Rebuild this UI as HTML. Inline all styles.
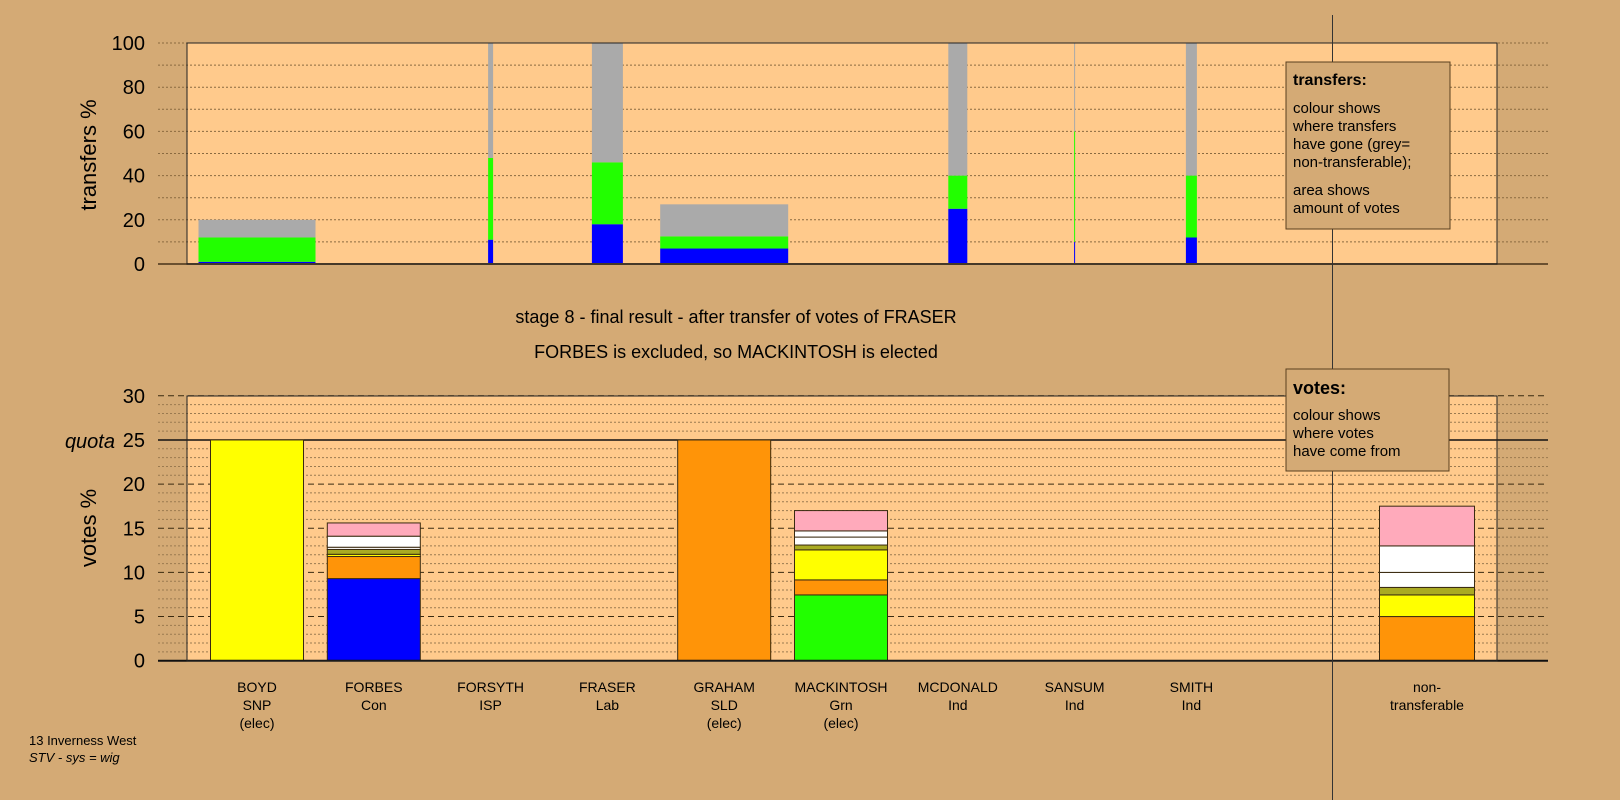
<!DOCTYPE html>
<html><head><meta charset="utf-8"><style>
html,body{margin:0;padding:0;background:#d4aa75;}
svg{display:block;font-family:"Liberation Sans",sans-serif;}
</style></head><body>
<svg id="c" width="1620" height="800" viewBox="0 0 1620 800" xmlns="http://www.w3.org/2000/svg">
<rect x="0" y="0" width="1620" height="800" fill="#d4aa75"/>
<rect x="187" y="43" width="1310" height="221" fill="#ffca8c"/>
<rect x="187" y="396" width="1310" height="265" fill="#ffca8c"/>
<g id="tg"></g>
<g id="vg"></g>
<g id="tb"></g>
<g id="vb"></g>
<rect x="187" y="43" width="1310" height="221" fill="none" stroke="#222" stroke-width="1"/>
<rect x="187" y="396" width="1310" height="265" fill="none" stroke="#222" stroke-width="1"/>
<line x1="1332.5" y1="15" x2="1332.5" y2="800" stroke="#333" stroke-width="1"/>
<text x="0" y="0" transform="translate(96,155) rotate(-90)" text-anchor="middle" font-size="22">transfers %</text>
<text x="0" y="0" transform="translate(96,528) rotate(-90)" text-anchor="middle" font-size="22">votes %</text>
<text x="115" y="448" text-anchor="end" font-size="20" font-style="italic">quota</text>
<text x="736" y="323" text-anchor="middle" font-size="18">stage 8 - final result - after transfer of votes of FRASER</text>
<text x="736" y="358" text-anchor="middle" font-size="18">FORBES is excluded, so MACKINTOSH is elected</text>
<g>
<rect x="1286" y="62" width="164" height="167" fill="#d4aa75" stroke="#5a4020" stroke-width="1"/>
<text x="1293" y="85" font-size="16" font-weight="bold">transfers:</text>
<text font-size="15"><tspan x="1293" y="113">colour shows</tspan><tspan x="1293" y="131">where transfers</tspan><tspan x="1293" y="149">have gone (grey=</tspan><tspan x="1293" y="167">non-transferable);</tspan><tspan x="1293" y="195">area shows</tspan><tspan x="1293" y="213">amount of votes</tspan></text>
</g>
<g>
<rect x="1286" y="369" width="163" height="102" fill="#d4aa75" stroke="#5a4020" stroke-width="1"/>
<text x="1293" y="394" font-size="18" font-weight="bold">votes:</text>
<text font-size="15"><tspan x="1293" y="420">colour shows</tspan><tspan x="1293" y="438">where votes</tspan><tspan x="1293" y="456">have come from</tspan></text>
</g>
<g id="cl"></g>
<text x="29" y="745" font-size="13">13 Inverness West</text>
<text x="29" y="762" font-size="13" font-style="italic">STV - sys = wig</text>
</svg>
<script>
const candidates=["BOYD","FORBES","FORSYTH","FRASER","GRAHAM","MACKINTOSH","MCDONALD","SANSUM","SMITH"];
const parties=["SNP","Con","ISP","Lab","SLD","Grn","Ind","Ind","Ind"];
const elected=[true,false,false,false,true,true,false,false,false];
// transfers: cumulative tops (%), and bar width relative to votes transferred
const trBlue=[1,0,11,18,7,0,25,10,12];
const trGreen=[12,0,48,46,12.5,0,40,60,40];
const trGrey=[20,0,100,100,27,0,100,100,100];
const trWidth=[117,0,5,31,128,0,19,1,11];
// votes: segments stacked bottom-up
const segColors=["#0000ff","#22ff00","#ff9408","#ffff00","#aaaa22","#ffffff","#ffffff","#ffaabb"];
const vBlue=[0,9.3,0,0,0,0,0,0,0,0];
const vGreen=[0,0,0,0,0,7.45,0,0,0,0];
const vOrange=[0,2.5,0,0,25,1.7,0,0,0,5.0];
const vYellow=[25,0.25,0,0,0,3.4,0,0,0,2.45];
const vOlive=[0,0.55,0,0,0,0.55,0,0,0,0.85];
const vWhite1=[0,0.25,0,0,0,0.9,0,0,0,1.7];
const vWhite2=[0,1.25,0,0,0,0.7,0,0,0,3.0];
const vPink=[0,1.5,0,0,0,2.3,0,0,0,4.5];
const tTicks=[0,20,40,60,80,100];
const vTicks=[0,5,10,15,20,25,30];
const quota=25;

const NS="http://www.w3.org/2000/svg";
function mk(p,tag,a){const e=document.createElementNS(NS,tag);for(const k in a)e.setAttribute(k,a[k]);p.appendChild(e);return e;}
const tY=v=>264-v*2.21;
const vY=v=>660.7-v*8.83;
const cX=i=>i<9?257+i*116.8:1427;
const tg=document.getElementById('tg'),vg=document.getElementById('vg'),tb=document.getElementById('tb'),vb=document.getElementById('vb'),cl=document.getElementById('cl');
const svg=document.getElementById('c');
for(let v=0;v<=100;v+=10){const l=mk(tg,'line',{x1:158,x2:1548,y1:tY(v),y2:tY(v),stroke:'#8a6a40','stroke-width':1,'stroke-dasharray':'2,2'});

}
tTicks.forEach(v=>{const t=mk(svg,'text',{x:145,y:tY(v)+7,'text-anchor':'end','font-size':20});t.textContent=v;

});
for(let v=0;v<=30;v++){const major=v%5===0;const l=mk(vg,'line',{x1:158,x2:1548,y1:vY(v),y2:vY(v),stroke:major?'#3a2a10':'#9a7a50','stroke-width':1,'stroke-dasharray':major?'6,4':'2,2'});

}
const q=mk(vg,'line',{x1:158,x2:1548,y1:vY(quota),y2:vY(quota),stroke:'#111','stroke-width':1.5});


vTicks.forEach(v=>{const t=mk(svg,'text',{x:145,y:vY(v)+7,'text-anchor':'end','font-size':20});t.textContent=v;

});
// transfer bars
candidates.forEach((c,i)=>{const w=trWidth[i];if(!w)return;const x=cX(i)-w/2;
[[0,trBlue[i],'#0000ff'],[trBlue[i],trGreen[i],'#22ff00'],[trGreen[i],trGrey[i],'#aaaaaa']].forEach(s=>{if(s[1]<=s[0])return;
const r=mk(tb,'rect',{x:x,y:tY(s[1]),width:w,height:tY(s[0])-tY(s[1]),fill:s[2]});

});});
const zl=mk(tb,'line',{x1:158,x2:1548,y1:264,y2:264,stroke:'#6a5030','stroke-width':2});


// vote bars
const series=[vBlue,vGreen,vOrange,vYellow,vOlive,vWhite1,vWhite2,vPink];
const order=[0,1,2,3,4,5,6,7];
for(let i=0;i<10;i++){let base=0;const w=i<9?93:95;const x=cX(i)-w/2;
order.forEach(k=>{const v=series[k][i];if(v<=0)return;
const r=mk(vb,'rect',{x:x,y:vY(base+v),width:w,height:vY(base)-vY(base+v),fill:segColors[k],stroke:'#3a2a10','stroke-width':1});

base+=v;});}
const vz=mk(vb,'line',{x1:158,x2:1548,y1:vY(0),y2:vY(0),stroke:'#111','stroke-width':2});


// labels
candidates.forEach((c,i)=>{const lines=[c,parties[i]];if(elected[i])lines.push('(elec)');
const t=mk(cl,'text',{'text-anchor':'middle','font-size':14});
lines.forEach((s,j)=>{const ts=mk(t,'tspan',{x:cX(i),y:692+j*18});ts.textContent=s;});

});
const nt=mk(cl,'text',{'text-anchor':'middle','font-size':14});
['non-','transferable'].forEach((s,j)=>{const ts=mk(nt,'tspan',{x:cX(9),y:692+j*18});ts.textContent=s;});


</script>
</body></html>
